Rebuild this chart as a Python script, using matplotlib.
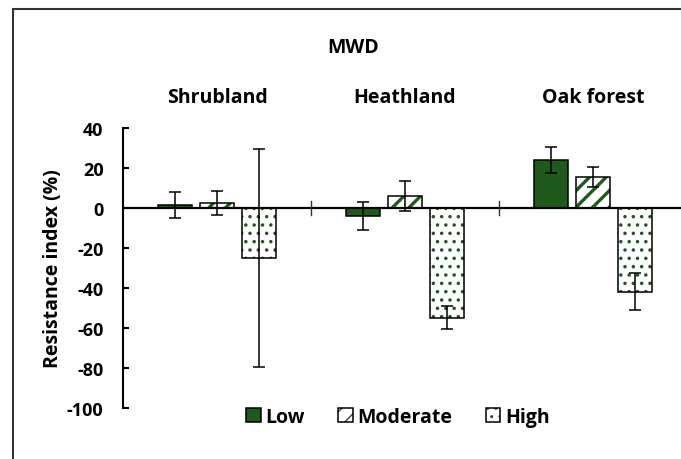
import numpy as np
import matplotlib.pyplot as plt
from matplotlib.patches import Patch, Rectangle
from matplotlib.legend_handler import HandlerTuple

plt.rcParams['font.family'] = ['Open Sans', 'DejaVu Sans']
plt.rcParams['font.weight'] = 'bold'
plt.rcParams['axes.unicode_minus'] = False

# data
sites = ['Shrubland', 'Heathland', 'Oak forest']
levels = ['Low', 'Moderate', 'High']
low = [1.5, -4.0, 24.1]
low_err = [6.5, 7.1, 6.5]
moderate = [2.5, 6.1, 15.6]
moderate_err = [6.0, 7.6, 5.0]
high = [-25.0, -54.8, -41.8]
high_err = [54.7, 5.9, 9.4]
y_ticks = [40, 20, 0, -20, -40, -60, -80, -100]

green = '#1f5a1c'
W, H = 681, 460

fig = plt.figure(figsize=(W / 100, H / 100), dpi=100)
ax = fig.add_axes([123 / W, 51 / H, 564 / W, 280 / H])

x = np.arange(len(sites))
width = 0.18
offsets = [-0.222, 0.0, 0.222]
series = [(low, low_err), (moderate, moderate_err), (high, high_err)]
fills = [(green, None, 0), ('white', '//', 2.4), ('white', '..', 1.3)]

handles = []
for (vals, err), off, (fc, hatch, hlw) in zip(series, offsets, fills):
    if hatch is None:
        ax.bar(x + off, vals, width, color=fc, edgecolor='black', lw=1.1, zorder=2)
        handles.append(Patch(fc=fc, ec='black', lw=1.1))
    else:
        # hatch in green, outline in black
        with plt.rc_context({'hatch.linewidth': hlw}):
            ax.bar(x + off, vals, width, color=fc, edgecolor=green, hatch=hatch, lw=0, zorder=2)
            hp = Patch(fc=fc, ec=green, hatch=hatch, lw=0)
        ax.bar(x + off, vals, width, color='none', edgecolor='black', lw=1.1, zorder=3)
        handles.append((hp, Patch(fc='none', ec='black', lw=1.1)))
    ax.errorbar(x + off, vals, yerr=err, fmt='none', ecolor='black',
                elinewidth=1.1, capsize=4.3, capthick=1.1, zorder=4)

# zero line with category separators
ax.axhline(0, color='black', lw=1.6, zorder=3)
for xb in x[:-1] + 0.5:
    ax.plot([xb, xb], [-3.5, 3.5], color='#333333', lw=1, zorder=3)

ax.set_xlim(-0.5, 2.5)
ax.set_ylim(-100, 40)
ax.set_xticks([])
ax.set_yticks(y_ticks)
ax.tick_params(axis='y', direction='in', length=4.5, width=1.5, pad=14, labelsize=13)
for lab in ax.get_yticklabels():
    lab.set_fontweight('bold')
for s in ['top', 'right', 'bottom']:
    ax.spines[s].set_visible(False)
ax.spines['left'].set_linewidth(1.5)

for i, name in enumerate(sites):
    ax.text(i, 55.5, name, ha='center', va='center', fontsize=14,
            fontweight='bold', clip_on=False)

fig.text(353 / W, 1 - 48 / H, 'MWD', ha='center', va='center', fontsize=14, fontweight='bold')
fig.text(53 / W, 1 - 269 / H, 'Resistance index (%)', ha='center', va='center',
         rotation=90, fontsize=14, fontweight='bold')

fig.legend(handles, levels, loc='center', bbox_to_anchor=(398 / W, 1 - 418 / H),
           ncol=3, frameon=False, prop={'size': 14, 'weight': 'bold'},
           handlelength=0.75, handleheight=0.75,
           handletextpad=0.25, columnspacing=1.7,
           handler_map={tuple: HandlerTuple(ndivide=1)})

# chart border (cropped on the right and bottom)
fig.patches.append(Rectangle((13 / W, -0.1), 1.0, 1 - 10 / H + 0.1, transform=fig.transFigure,
                             fill=False, ec='#333333', lw=1.5))

fig.savefig('out.png', dpi=100)
